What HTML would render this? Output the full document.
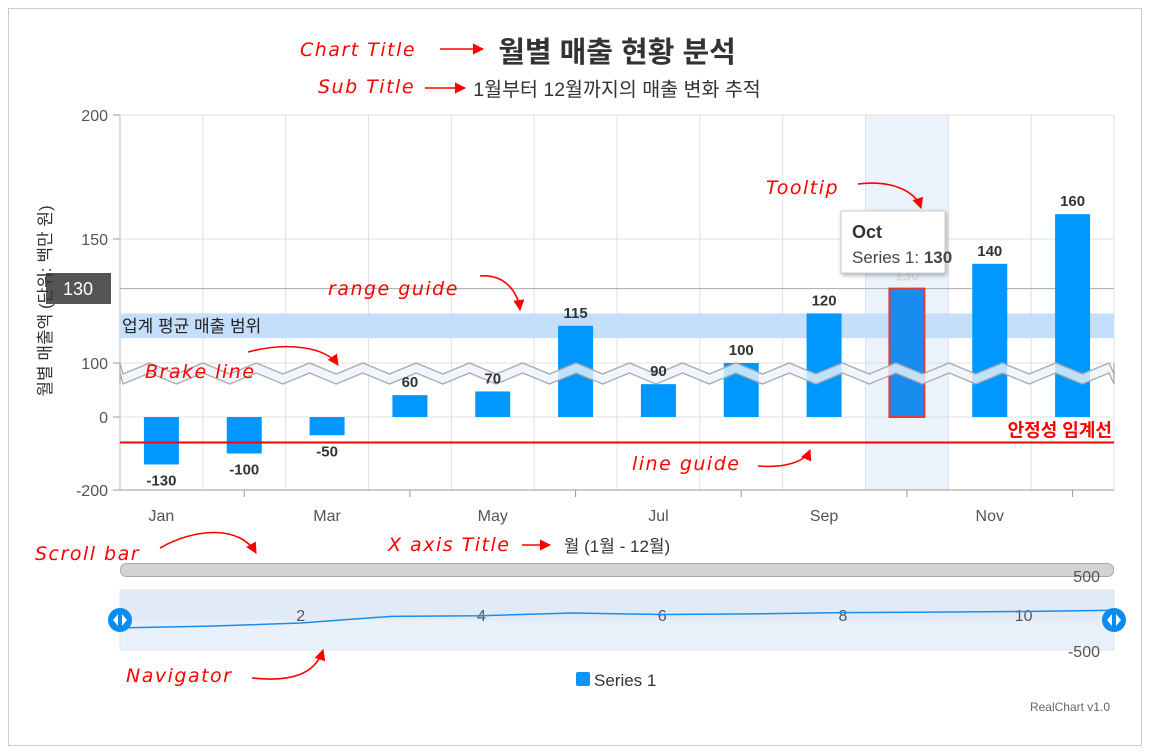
<!DOCTYPE html>
<html><head><meta charset="utf-8"><style>
body{margin:0;background:#fff}
svg{display:block}
text{font-family:"Liberation Sans","Noto Sans CJK KR",sans-serif}
.ann{font-family:"DejaVu Sans","Liberation Sans",sans-serif;font-style:italic;fill:#f00;font-size:19px;letter-spacing:1.5px}
.tk{font-size:16px;fill:#555}
.bl{font-size:15px;font-weight:bold;fill:#333}
</style></head><body>
<svg id="c" width="1150" height="754" xmlns="http://www.w3.org/2000/svg">
<defs>
<marker id="ar" viewBox="0 0 10 10" refX="9" refY="5" markerWidth="7" markerHeight="7" orient="auto"><path d="M0,0L10,5L0,10z" fill="#f00"/></marker>
<filter id="sh" x="-10%" y="-10%" width="130%" height="140%"><feDropShadow dx="1" dy="2" stdDeviation="2" flood-opacity="0.3"/></filter>
</defs>
<rect x="8.5" y="8.5" width="1133" height="737" fill="#fff" stroke="#ccc"/>
<text x="617" y="62" text-anchor="middle" font-size="29" font-weight="bold" fill="#333">월별 매출 현황 분석</text>
<text x="617" y="96" text-anchor="middle" font-size="19.5" fill="#333">1월부터 12월까지의 매출 변화 추적</text>
<g id="plot"></g>
<text transform="translate(51,301) rotate(-90)" text-anchor="middle" font-size="17" fill="#333">월별 매출액 (단위: 백만 원)</text>
<text x="617" y="552" text-anchor="middle" font-size="17" fill="#333">월 (1월 - 12월)</text>
<rect x="120.5" y="563.5" width="993" height="13" rx="6" fill="#d3d3d3" stroke="#aaa"/>
<text x="1100" y="582" text-anchor="end" class="tk">500</text>
<rect x="120" y="590" width="994" height="60" fill="#e8f0fa" stroke="#dde6f2"/>
<rect x="120" y="590" width="994" height="30" fill="#e1ebf8"/>
<g id="nav"></g>
<text x="1100" y="657" text-anchor="end" class="tk">-500</text>
<rect x="576" y="672" width="14" height="14" rx="2" fill="#0a96ff"/>
<text x="594" y="686" font-size="17" fill="#333">Series 1</text>
<text x="1110" y="711" text-anchor="end" font-size="12" fill="#666">RealChart v1.0</text>
<g fill="none" stroke="#f00" stroke-width="1.6">
<path d="M440,49L483,49" marker-end="url(#ar)"/>
<path d="M425,88L465,88" marker-end="url(#ar)"/>
<path d="M522,545L550,545" marker-end="url(#ar)"/>
<path d="M858,184C890,180 915,190 921,208" marker-end="url(#ar)"/>
<path d="M480,276C505,274 518,292 520,310" marker-end="url(#ar)"/>
<path d="M248,352C285,342 325,346 338,365" marker-end="url(#ar)"/>
<path d="M758,466C785,468 805,462 810,450" marker-end="url(#ar)"/>
<path d="M160,548C195,528 240,525 256,553" marker-end="url(#ar)"/>
<path d="M252,678C290,682 315,675 323,650" marker-end="url(#ar)"/>
</g>
<text class="ann" x="300" y="56">Chart Title</text>
<text class="ann" x="318" y="93">Sub Title</text>
<text class="ann" x="766" y="194">Tooltip</text>
<text class="ann" x="328" y="295">range guide</text>
<text class="ann" x="145" y="378">Brake line</text>
<text class="ann" x="632" y="470">line guide</text>
<text class="ann" x="35" y="560">Scroll bar</text>
<text class="ann" x="388" y="551">X axis Title</text>
<text class="ann" x="126" y="682">Navigator</text>
</svg>
<script>
const categories=["Jan","Feb","Mar","Apr","May","Jun","Jul","Aug","Sep","Oct","Nov","Dec"];
const values=[-130,-100,-50,60,70,115,90,100,120,130,140,160];
const yTicks=[-200,0,100,150,200];
const navTicks=[2,4,6,8,10];
const rangeGuide=[110,120];
const lineGuide=-70;
const crosshairValue=130;
const hoverIndex=9;
const NS="http://www.w3.org/2000/svg";
const L=120,R=1114,T=115,B=490;
const cw=(R-L)/categories.length;
function y(v){return v<100?417-v*0.365:363-(v-100)*2.48;}
function xc(i){return L+cw*(i+0.5);}
function nx(i){return L+i*(R-L)/(values.length-1);}
function ny(v){return 620-v*0.061;}
function mk(tag,at,par,txt){const e=document.createElementNS(NS,tag);for(const k in at)e.setAttribute(k,at[k]);if(txt!=null)e.textContent=txt;par.appendChild(e);return e;}
const g=document.getElementById('plot');
let e;
e=mk('rect',{x:L+cw*hoverIndex,y:T,width:cw,height:B-T,fill:'#eaf2fc'},g);


yTicks.forEach(v=>{
 e=mk('line',{x1:L,x2:R,y1:y(v),y2:y(v),stroke:'#e0e0e0'},g);
 
 
 mk('line',{x1:113,x2:L,y1:y(v),y2:y(v),stroke:'#999'},g);
 e=mk('text',{x:108,y:y(v)+6,'text-anchor':'end',class:'tk'},g,v);
 
 
});
for(let i=1;i<categories.length;i++){
 e=mk('line',{x1:L+cw*i,x2:L+cw*i,y1:T,y2:B,stroke:'#e0e0e0'},g);
 
 
}
mk('line',{x1:R,x2:R,y1:T,y2:B,stroke:'#e0e0e0'},g);
mk('line',{x1:L,x2:L,y1:T,y2:B,stroke:'#bbb'},g);
e=mk('rect',{x:L,y:y(rangeGuide[1]),width:R-L,height:y(rangeGuide[0])-y(rangeGuide[1]),fill:'#c5defa'},g);


e=mk('text',{x:122,y:y(rangeGuide[0])-6,'font-size':17,fill:'#222'},g,'업계 평균 매출 범위');


e=mk('line',{x1:L,x2:R,y1:y(crosshairValue),y2:y(crosshairValue),stroke:'#aaa'},g);


values.forEach((v,i)=>{
 const y0=y(0),y1=y(v),bw=35;
 e=mk('rect',{x:xc(i)-bw/2,y:Math.min(y0,y1),width:bw,height:Math.abs(y1-y0),fill:i===hoverIndex?'#1a8cf0':'#0098ff',stroke:i===hoverIndex?'#e53935':'none','stroke-width':2},g);
 
 
});
// break band
const per=53.3,x0=123;
let pts=[];for(let x=x0-per;x<=R+per;x+=per/2){pts.push(x);}
const up_=[],lo_=[];
pts.forEach((x,j)=>{const top=j%2===1;const cx=Math.max(L,Math.min(R,x));up_.push([cx,top?363:374]);lo_.push([cx,top?373:384]);});
const band=up_.map(p=>p.join(',')).join(' ')+' '+lo_.slice().reverse().map(p=>p.join(',')).join(' ');
e=mk('polygon',{points:band,fill:'#eef4fc',opacity:0.8},g);


mk('polyline',{points:up_.map(p=>p.join(',')).join(' '),fill:'none',stroke:'#aaa','stroke-width':1.3},g);
mk('polyline',{points:lo_.map(p=>p.join(',')).join(' '),fill:'none',stroke:'#aaa','stroke-width':1.3},g);
values.forEach((v,i)=>{
 const y1=y(v);
 const ly=v>=0?y1-8:y1+21;
 e=mk('text',{x:xc(i),y:ly,'text-anchor':'middle',class:'bl',style:i===hoverIndex?'fill:#ddd':''},g,v);
 
 
});
e=mk('line',{x1:L,x2:R,y1:y(lineGuide),y2:y(lineGuide),stroke:'#f00','stroke-width':2},g);


e=mk('text',{x:1112,y:y(lineGuide)-6,'text-anchor':'end','font-size':18,'font-weight':'bold',fill:'#f00'},g,'안정성 임계선');


mk('line',{x1:L,x2:R,y1:B,y2:B,stroke:'#999'},g);
categories.forEach((c,i)=>{
 if(i%2===1){mk('line',{x1:xc(i),x2:xc(i),y1:B,y2:B+7,stroke:'#999'},g);}
 else{e=mk('text',{x:xc(i),y:521,'text-anchor':'middle',class:'tk'},g,c);
 
 }
});
e=mk('rect',{x:46,y:273,width:65,height:31,fill:'#555'},g);


e=mk('text',{x:78,y:295,'text-anchor':'middle','font-size':18,fill:'#fff'},g,crosshairValue);


const tt=mk('g',{},g);


mk('rect',{x:841,y:211,width:104,height:62,fill:'#fff',stroke:'#ccc',filter:'url(#sh)'},tt);
mk('text',{x:852,y:238,'font-size':18,'font-weight':'bold',fill:'#333'},tt,categories[hoverIndex]);
const t2=mk('text',{x:852,y:263,'font-size':17,fill:'#444'},tt,'Series 1: ');
mk('tspan',{'font-weight':'bold'},t2,values[hoverIndex]);
// navigator
const n=document.getElementById('nav');
navTicks.forEach(t=>{e=mk('text',{x:nx(t),y:621,'text-anchor':'middle',class:'tk',fill:'#666'},n,t);
 
 });
e=mk('polyline',{points:values.map((v,i)=>nx(i)+','+ny(v)).join(' '),fill:'none',stroke:'#1a8cf0','stroke-width':1.5},n);


[L,R].forEach((hx,j)=>{const h=mk('g',{},n);
 
 
 mk('circle',{cx:hx,cy:620,r:12,fill:'#0a8cf0'},h);
 mk('path',{d:`M${hx-2},614L${hx-7},620L${hx-2},626zM${hx+2},614L${hx+7},620L${hx+2},626z`,fill:'#fff'},h);});
</script>
</body></html>
